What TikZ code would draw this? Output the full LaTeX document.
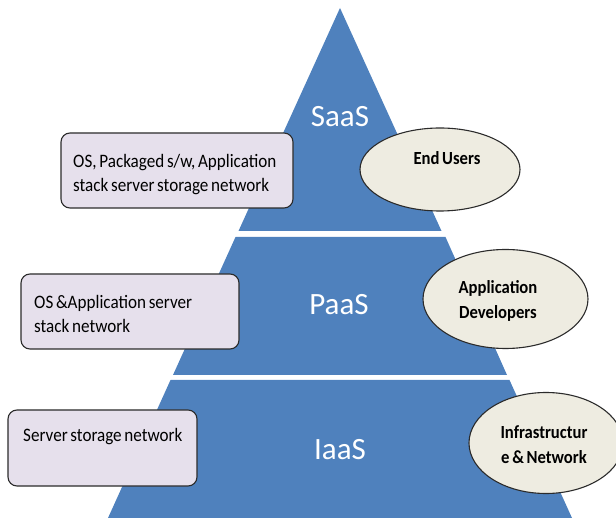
\documentclass[tikz,border=0pt]{standalone}
\usepackage{fontspec}
\setmainfont{Carlito}
\newfontfamily\narrowfont[FakeStretch=0.9,WordSpace=0.7]{Carlito}
\usetikzlibrary{shapes.geometric}
\definecolor{bandblue}{HTML}{4F81BD}
\definecolor{boxfill}{HTML}{E6E0EC}
\definecolor{ellfill}{HTML}{EEECE1}
\definecolor{edge}{HTML}{2B2B2B}
\tikzset{
  band/.style={fill=bandblue},
  bandlabel/.style={text=white, font=\fontsize{31}{36}\selectfont, inner sep=0pt},
  infobox/.style={draw=edge, line width=1.1pt, fill=boxfill, rounded corners=9pt, inner sep=0pt},
  infotext/.style={font=\narrowfont\fontsize{19}{24.5}\selectfont, align=left, anchor=base west, inner sep=0pt, text=black},
  roleell/.style={ellipse, draw=edge, line width=1.1pt, fill=ellfill, inner sep=0pt},
  roletext/.style={font=\narrowfont\bfseries\fontsize{18.5}{25}\selectfont, align=center, inner sep=0pt, text=black},
}
\begin{document}
\begin{tikzpicture}[x=1pt,y=-1pt]
\useasboundingbox (0,0) rectangle (616,518);
\begin{scope}
\clip (0,0) rectangle (616,518);
% pyramid bands
\fill[band] (340,8) -- (441.5,231) -- (238.5,231) -- cycle;
\fill[band] (235.5,237) -- (445.5,237) -- (507,375) -- (173,375) -- cycle;
\fill[band] (170.5,380) -- (509.5,380) -- (572,518) -- (108,518) -- cycle;
\node[bandlabel] (saas) at (340,117) {SaaS};
\node[bandlabel] (paas) at (339,305) {PaaS};
\node[bandlabel] (iaas) at (340,450) {IaaS};
% left boxes
\node[infobox, minimum width=232pt, minimum height=75pt] (b1) at (177,170.5) {};
\node[infotext] (t1) at (73,192) {OS, Packaged s/w, Application\\stack server storage network};
\node[infobox, minimum width=218pt, minimum height=75pt] (b2) at (130,311.5) {};
\node[infotext] (t2) at (34,333) {OS \&Application server\\stack network};
\node[infobox, minimum width=189pt, minimum height=76pt] (b3) at (102.5,448) {};
\node[infotext] (t3) at (23,442) {Server storage network};
% right ellipses
\node[roleell, minimum width=160pt, minimum height=83pt] (e1) at (440,169.5) {};
\node[roletext] (r1) at (447,158) {End Users};
\node[roleell, minimum width=165pt, minimum height=99pt] (e2) at (505.5,299) {};
\node[roletext] (r2) at (498,301) {Application\\Developers};
\node[roleell, minimum width=154pt, minimum height=101pt] (e3) at (546,443) {};
\node[roletext] (r3) at (544,445) {Infrastructur\\e \& Network};
\end{scope}
\end{tikzpicture}
\end{document}
